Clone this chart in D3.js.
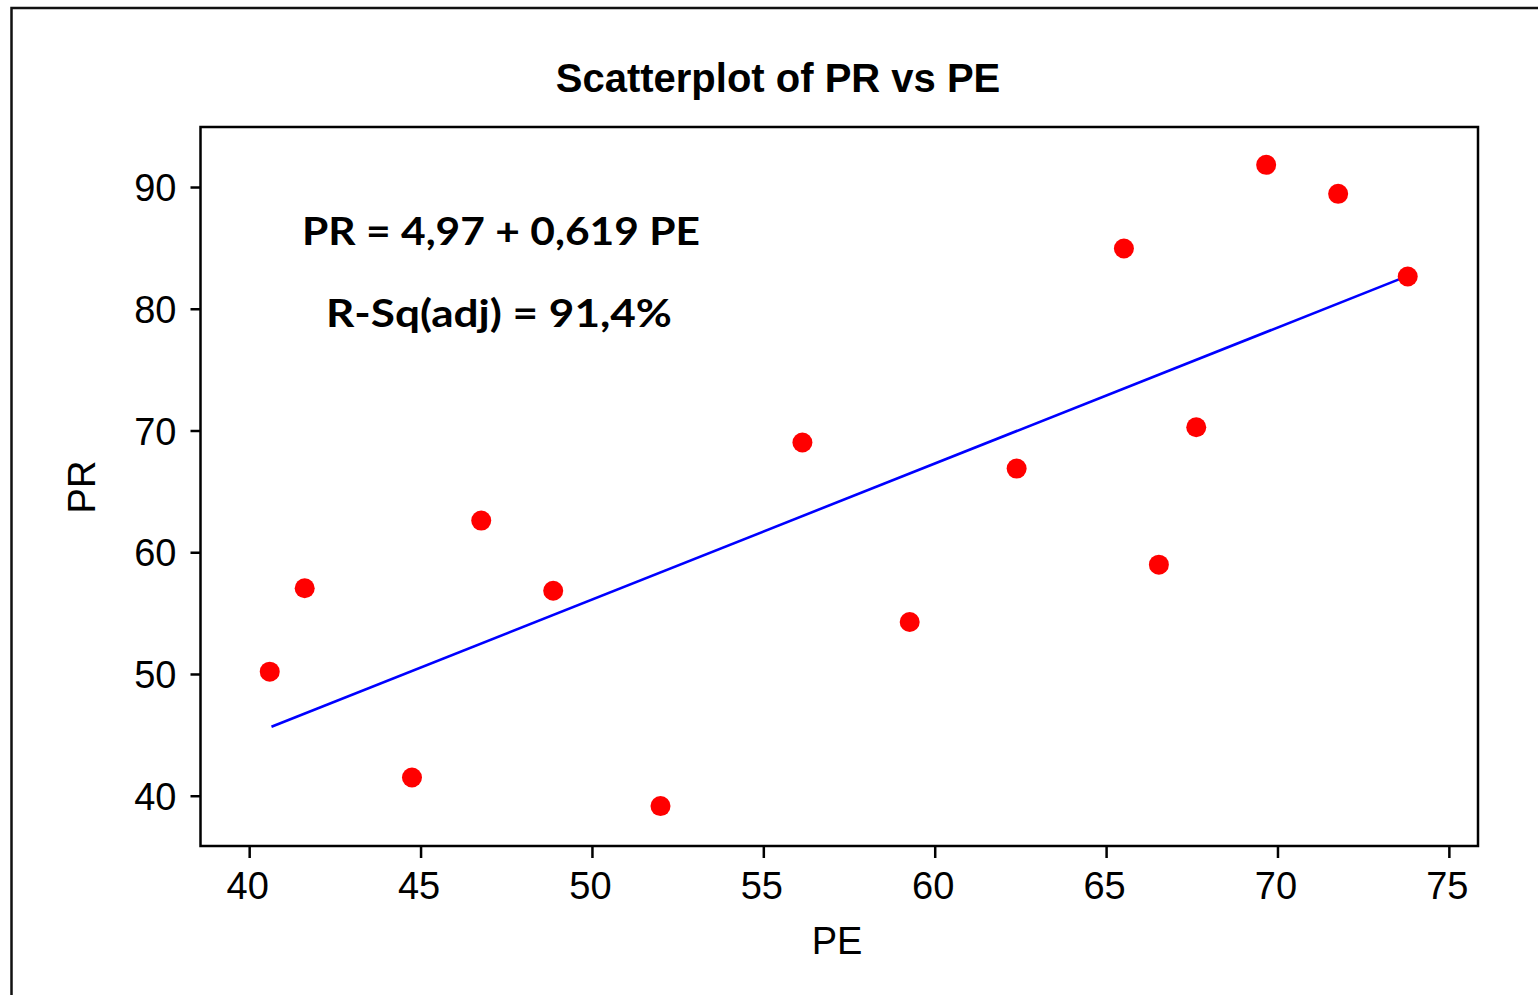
<!DOCTYPE html>
<html>
<head>
<meta charset="utf-8">
<script src="https://cdn.jsdelivr.net/npm/d3@7"></script>
<style>
  html, body { margin: 0; padding: 0; background: #fff; overflow: hidden; }
  svg { display: block; }
</style>
</head>
<body>
<svg id="chart" width="1538" height="995"></svg>
<script>
// ---- data ----
const peValues = [40.60, 41.62, 44.75, 46.77, 48.87, 52.00, 56.14, 59.27, 62.39, 65.52, 66.54, 67.63, 69.67, 71.77, 73.80];
const prValues = [50.19, 57.04, 41.50, 62.60, 56.84, 39.15, 69.01, 54.27, 66.87, 84.95, 58.98, 70.27, 91.82, 89.44, 82.65];
const fitLinePE = [40.65, 73.80];
const fitLinePR = [45.67, 82.70];
const xTicks = [40, 45, 50, 55, 60, 65, 70, 75];
const yTicks = [40, 50, 60, 70, 80, 90];
const titleText = "Scatterplot of PR vs PE";
const xLabel = "PE";
const yLabel = "PR";
const equationText = "PR = 4,97 + 0,619 PE";
const rsqText = "R-Sq(adj) = 91,4%";

// ---- layout ----
const plot = { left: 200.5, right: 1478, top: 127, bottom: 846 };
const svg = d3.select("#chart");

const x = d3.scaleLinear().domain([38.58, 75.85]).range([plot.left, plot.right]);
const y = d3.scaleLinear().domain([35.87, 94.93]).range([plot.bottom, plot.top]);

// outer frame (extends past the right and bottom edges)
svg.append("rect")
  .attr("x", 11.5).attr("y", 8)
  .attr("width", 1700).attr("height", 1200)
  .attr("fill", "#fff").attr("stroke", "#111").attr("stroke-width", 2.5);

// title
svg.append("text")
  .attr("x", 778).attr("y", 92)
  .attr("text-anchor", "middle")
  .attr("font-family", "Liberation Sans, Arial, sans-serif")
  .attr("font-weight", "bold")
  .attr("font-size", 40)
  .attr("fill", "#000")
  .text(titleText);

// axes
const fontFam = "Liberation Sans, Arial, sans-serif";
const xAxis = svg.append("g")
  .attr("transform", `translate(0,${plot.bottom})`)
  .call(d3.axisBottom(x).tickValues(xTicks).tickSize(12).tickSizeOuter(0).tickPadding(14));
const yAxis = svg.append("g")
  .attr("transform", `translate(${plot.left},0)`)
  .call(d3.axisLeft(y).tickValues(yTicks).tickSize(10).tickSizeOuter(0).tickPadding(14));

[xAxis, yAxis].forEach(g => {
  g.select(".domain").remove();
  g.selectAll(".tick line").attr("stroke", "#000").attr("stroke-width", 2.5);
  g.selectAll(".tick text")
    .attr("font-family", fontFam)
    .attr("font-size", 38)
    .attr("fill", "#000");
});
xAxis.selectAll(".tick text").attr("dy", null).attr("y", 53).attr("x", -2);
yAxis.selectAll(".tick text").attr("dy", "0.36em");

// plot frame
svg.append("rect")
  .attr("x", plot.left).attr("y", plot.top)
  .attr("width", plot.right - plot.left).attr("height", plot.bottom - plot.top)
  .attr("fill", "none").attr("stroke", "#000").attr("stroke-width", 2.5);

// axis labels
svg.append("text")
  .attr("x", 837).attr("y", 954)
  .attr("text-anchor", "middle")
  .attr("font-family", fontFam).attr("font-size", 38).attr("fill", "#000")
  .text(xLabel);
svg.append("text")
  .attr("transform", "translate(95,487) rotate(-90)")
  .attr("text-anchor", "middle")
  .attr("font-family", fontFam).attr("font-size", 38).attr("fill", "#000")
  .text(yLabel);

// fit line
const lineData = fitLinePE.map((v, i) => [v, fitLinePR[i]]);
svg.append("path")
  .datum(lineData)
  .attr("d", d3.line().x(d => x(d[0])).y(d => y(d[1])))
  .attr("fill", "none").attr("stroke", "#0000ff").attr("stroke-width", 2.6);

// points
const pts = peValues.map((v, i) => ({ pe: v, pr: prValues[i] }));
svg.append("g").selectAll("circle")
  .data(pts).enter().append("circle")
  .attr("cx", d => x(d.pe)).attr("cy", d => y(d.pr))
  .attr("r", 10)
  .attr("fill", "#ff0000");

// annotations
const annFont = "Lato, 'Open Sans', sans-serif";
svg.append("text")
  .attr("x", 302).attr("y", 245)
  .attr("font-family", annFont).attr("font-weight", "bold")
  .attr("font-size", 38).attr("fill", "#000")
  .attr("textLength", 398).attr("lengthAdjust", "spacingAndGlyphs")
  .text(equationText);
svg.append("text")
  .attr("x", 326).attr("y", 327)
  .attr("font-family", annFont).attr("font-weight", "bold")
  .attr("font-size", 38).attr("fill", "#000")
  .attr("textLength", 346).attr("lengthAdjust", "spacingAndGlyphs")
  .text(rsqText);
</script>
</body>
</html>
